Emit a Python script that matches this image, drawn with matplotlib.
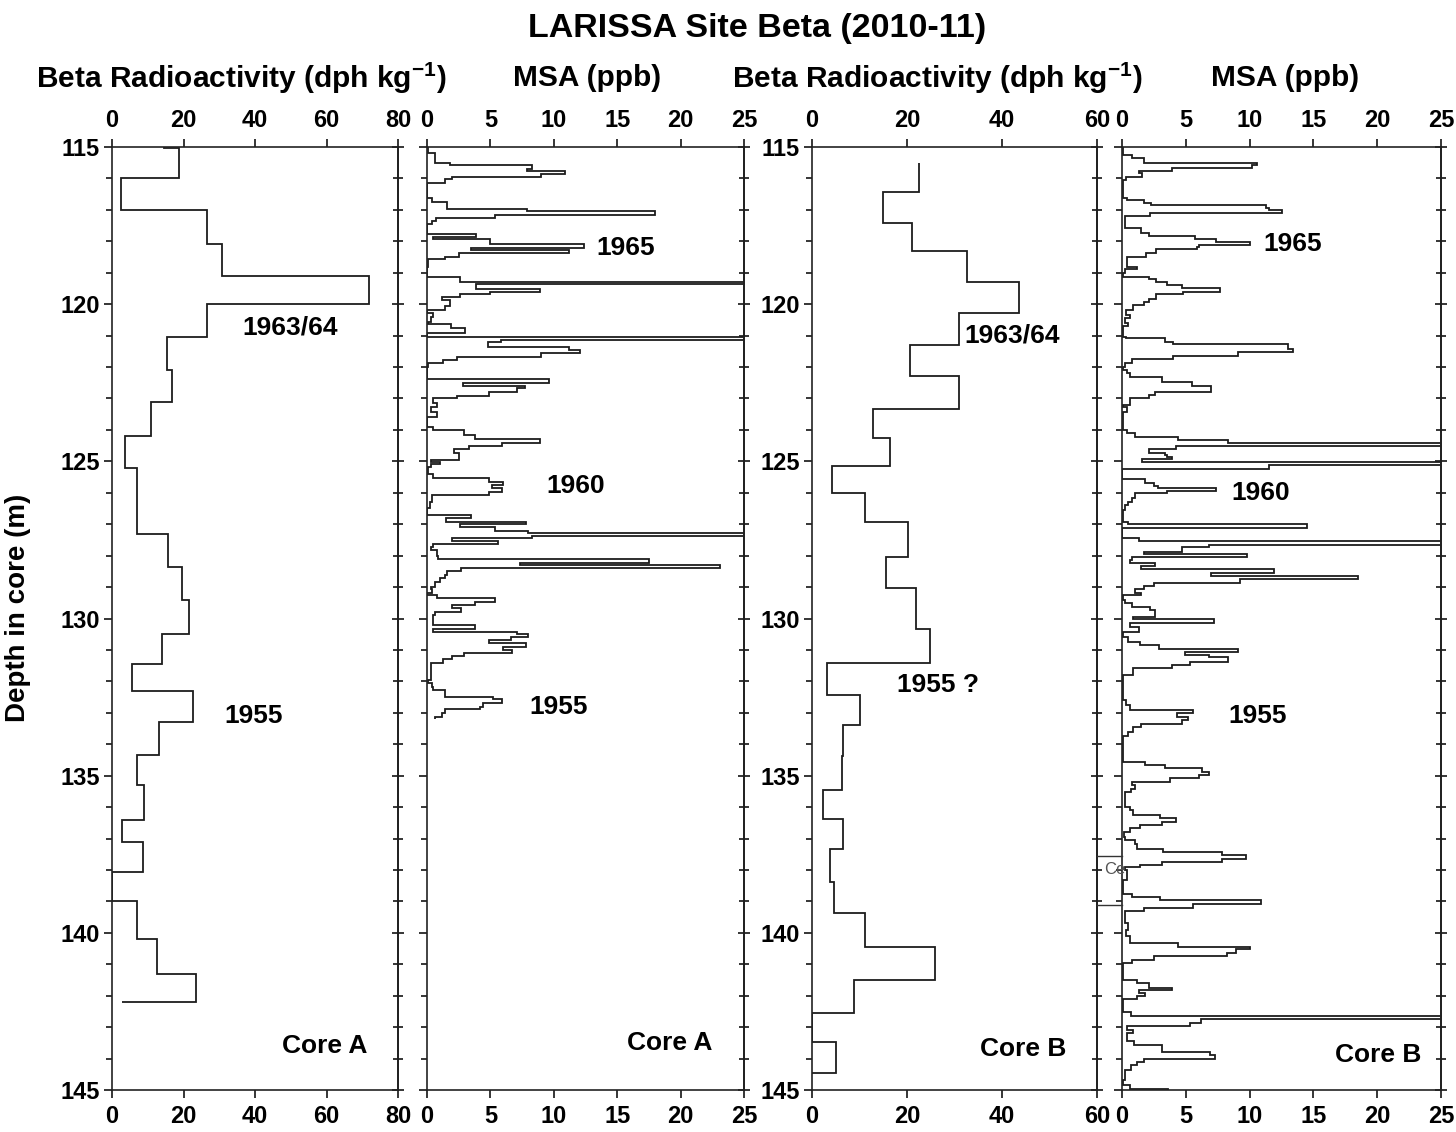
import matplotlib.pyplot as plt
from matplotlib.lines import Line2D
from matplotlib.ticker import MultipleLocator

plt.rcParams['font.family'] = ['Liberation Sans', 'DejaVu Sans']
plt.rcParams['font.weight'] = 'bold'
plt.rcParams['mathtext.fontset'] = 'custom'
plt.rcParams['mathtext.bf'] = 'Liberation Sans:bold'
plt.rcParams['mathtext.rm'] = 'Liberation Sans:bold'
plt.rcParams['mathtext.default'] = 'bf'

# Core A beta radioactivity (dph/kg), sample boundaries in m
beta_a_edges = [115.0, 115.03, 116.0, 117.0, 118.1, 119.1, 120.0, 121.05, 122.1, 123.1,
                124.2, 125.2, 127.3, 128.35, 129.4, 130.5, 131.45, 132.3, 133.3, 134.35,
                135.3, 136.4, 137.1, 138.05, 139.0, 140.2, 141.3, 142.2, 142.21]
beta_a_vals = [14.5, 18.8, 2.4, 26.5, 30.7, 71.8, 26.5, 15.5, 16.7, 10.8,
               3.5, 6.9, 15.7, 19.6, 21.6, 14.0, 5.5, 22.7, 13.1, 6.9,
               9.0, 2.8, 8.6, 0.0, 6.9, 12.5, 23.4, 2.7]

# Core B beta radioactivity
beta_b_edges = [115.52, 116.44, 117.43, 118.31, 119.28, 120.28, 121.30, 122.27, 123.32, 124.25,
                125.14, 126.02, 126.93, 128.03, 129.04, 130.33, 131.40, 132.43, 133.40, 134.38,
                135.46, 136.39, 137.34, 138.37, 139.38, 140.45, 141.50, 142.56, 143.48, 144.47,
                144.48]
beta_b_vals = [22.5, 14.9, 21.05, 32.7, 43.6, 30.9, 20.6, 30.9, 12.8, 16.5,
               4.2, 11.2, 20.3, 15.6, 21.8, 24.8, 3.1, 10.1, 6.5, 6.3,
               2.4, 6.5, 3.8, 4.7, 11.2, 25.8, 8.8, 0.0, 5.0, 0.0]

# Core A MSA (ppb): top depth of each sample, value, and base of the last sample
msa_a_top = [115.00, 115.20, 115.50, 115.58, 115.71, 115.77, 115.87, 115.94, 116.03, 116.13,
             116.63, 116.74, 116.97, 117.04, 117.17, 117.27, 117.35, 117.45, 117.78, 117.85,
             117.93, 118.09, 118.20, 118.28, 118.38, 118.49, 118.56, 118.81, 119.13, 119.28,
             119.37, 119.52, 119.60, 119.68, 119.76, 119.87, 120.05, 120.19, 120.29, 120.40,
             120.56, 120.63, 120.77, 120.91, 121.06, 121.14, 121.19, 121.35, 121.46, 121.56,
             121.67, 121.78, 121.88, 121.99, 122.39, 122.52, 122.60, 122.68, 122.78, 122.92,
             123.00, 123.15, 123.26, 123.42, 123.58, 123.92, 124.00, 124.16, 124.30, 124.43,
             124.51, 124.62, 124.72, 124.95, 125.03, 125.10, 125.18, 125.40, 125.54, 125.65,
             125.75, 125.86, 125.97, 126.07, 126.30, 126.50, 126.71, 126.81, 126.92, 126.99,
             127.10, 127.21, 127.27, 127.38, 127.45, 127.52, 127.63, 127.72, 127.82, 128.01,
             128.12, 128.25, 128.30, 128.40, 128.48, 128.62, 128.72, 128.83, 128.99, 129.07,
             129.18, 129.25, 129.36, 129.46, 129.57, 129.68, 129.78, 129.89, 130.21, 130.33,
             130.42, 130.49, 130.60, 130.68, 130.77, 130.90, 131.00, 131.09, 131.19, 131.30,
             131.43, 131.96, 132.06, 132.17, 132.28, 132.49, 132.57, 132.70, 132.81, 132.89,
             133.02, 133.12]
msa_a_val = [0.05, 0.6, 1.8, 8.3, 7.9, 10.9, 9.0, 2.0, 1.4, 0.0,
             0.4, 1.6, 7.9, 18.0, 5.4, 0.7, 0.4, 0.0, 3.9, 0.5,
             5.0, 12.4, 3.5, 11.2, 2.5, 1.4, 0.1, 0.0, 2.6, 30.0,
             3.9, 8.9, 5.0, 2.6, 1.2, 1.8, 1.4, 0.0, 0.5, 0.3,
             0.1, 1.9, 3.0, 0.0, 30.0, 5.8, 4.8, 11.2, 12.1, 9.0,
             2.4, 1.3, 0.1, 0.0, 9.6, 2.8, 7.7, 7.1, 4.9, 2.4,
             0.5, 0.8, 0.3, 0.8, 0.0, 0.5, 2.9, 3.8, 8.9, 5.9,
             3.3, 2.1, 2.5, 0.3, 1.0, 0.3, 0.1, 0.5, 4.9, 6.0,
             5.1, 5.9, 4.9, 0.4, 0.2, 0.0, 3.5, 1.5, 7.8, 2.6,
             5.4, 8.0, 30.0, 8.3, 2.0, 5.6, 0.5, 0.3, 0.8, 0.9,
             17.5, 7.3, 23.1, 2.7, 1.6, 1.4, 1.0, 0.6, 0.3, 0.4,
             0.0, 0.8, 5.4, 3.8, 2.0, 2.7, 0.6, 0.5, 3.8, 0.5,
             7.1, 8.0, 6.6, 4.9, 7.8, 6.0, 6.7, 2.9, 2.0, 1.3,
             0.3, 0.1, 0.4, 0.5, 1.4, 5.2, 5.9, 4.4, 4.2, 1.4,
             1.2, 0.6]
msa_a_base = 133.21

# Core B MSA (ppb)
msa_b_top = [115.00, 115.25, 115.36, 115.50, 115.57, 115.68, 115.76, 115.84, 115.95, 116.05,
             116.63, 116.69, 116.79, 116.85, 116.95, 117.00, 117.09, 117.20, 117.59, 117.75,
             117.83, 117.94, 118.01, 118.12, 118.19, 118.26, 118.36, 118.49, 118.81, 118.88,
             119.02, 119.13, 119.21, 119.28, 119.39, 119.50, 119.60, 119.68, 119.85, 119.92,
             120.03, 120.19, 120.35, 120.45, 120.60, 120.70, 121.03, 121.09, 121.19, 121.27,
             121.44, 121.53, 121.65, 121.76, 121.88, 121.99, 122.09, 122.20, 122.33, 122.47,
             122.60, 122.78, 122.89, 123.00, 123.21, 123.26, 123.42, 124.00, 124.09, 124.22,
             124.32, 124.43, 124.51, 124.62, 124.72, 124.80, 124.87, 124.94, 125.03, 125.12,
             125.24, 125.57, 125.68, 125.79, 125.86, 125.93, 126.02, 126.18, 126.28, 126.39,
             126.55, 126.92, 126.99, 127.13, 127.45, 127.53, 127.66, 127.74, 127.87, 127.95,
             128.03, 128.14, 128.25, 128.33, 128.44, 128.54, 128.65, 128.75, 128.88, 128.97,
             129.07, 129.18, 129.25, 129.41, 129.52, 129.62, 129.73, 129.94, 130.03, 130.15,
             130.28, 130.42, 130.60, 130.74, 130.84, 130.97, 131.06, 131.16, 131.24, 131.37,
             131.48, 131.59, 131.80, 131.96, 132.59, 132.75, 132.91, 133.02, 133.12, 133.23,
             133.36, 133.46, 133.60, 133.74, 134.56, 134.67, 134.77, 134.88, 134.99, 135.09,
             135.20, 135.30, 135.41, 135.52, 135.99, 136.10, 136.26, 136.36, 136.47, 136.58,
             136.68, 136.79, 136.95, 137.05, 137.16, 137.32, 137.42, 137.53, 137.64, 137.74,
             137.85, 137.92, 138.01, 138.33, 138.75, 138.86, 138.96, 139.09, 139.20, 139.30,
             139.49, 139.70, 139.90, 140.10, 140.31, 140.45, 140.53, 140.64, 140.74, 140.85,
             140.96, 141.49, 141.61, 141.74, 141.83, 141.91, 142.02, 142.12, 142.51, 142.64,
             142.73, 142.86, 142.97, 143.08, 143.18, 143.44, 143.58, 143.79, 143.89, 144.00,
             144.11, 144.21, 144.37, 144.69, 144.85, 144.97]
msa_b_val = [0.1, 0.8, 1.7, 10.6, 10.2, 3.9, 1.3, 1.6, 0.3, 0.1,
             0.4, 1.7, 2.3, 11.3, 11.5, 12.5, 2.2, 0.2, 1.5, 2.1,
             5.7, 7.4, 10.0, 6.0, 5.9, 2.7, 1.9, 0.4, 1.2, 0.2,
             0.1, 2.1, 2.7, 3.5, 4.7, 7.7, 4.8, 2.7, 2.1, 1.7,
             0.9, 0.3, 0.6, 0.2, 0.5, 0.1, 0.3, 3.4, 4.0, 13.0,
             13.4, 9.1, 4.0, 0.8, 0.2, 0.1, 0.4, 0.6, 3.1, 5.5,
             7.0, 2.6, 2.1, 0.6, 0.1, 0.4, 0.05, 0.4, 1.0, 4.4,
             8.3, 30.0, 4.2, 2.1, 3.4, 3.5, 3.9, 1.6, 30.0, 11.5,
             0.0, 1.8, 2.5, 2.85, 7.4, 3.5, 1.0, 0.8, 0.5, 0.2,
             0.1, 0.5, 14.5, 0.0, 1.3, 30.0, 6.8, 4.7, 1.7, 9.8,
             0.8, 0.6, 2.6, 1.5, 11.9, 6.95, 18.5, 9.25, 2.5, 1.7,
             1.0, 1.5, 0.05, 0.25, 0.75, 2.2, 2.6, 0.9, 7.2, 0.6,
             1.3, 0.05, 0.5, 1.4, 2.9, 9.1, 4.9, 6.8, 8.3, 5.3,
             3.9, 0.9, 0.1, 0.05, 0.3, 0.6, 5.6, 4.3, 5.2, 4.7,
             1.5, 0.9, 0.5, 0.1, 1.8, 3.4, 6.3, 6.8, 6.0, 3.8,
             0.8, 1.0, 0.7, 0.2, 0.6, 0.9, 3.0, 4.2, 3.1, 1.4,
             0.6, 0.15, 0.25, 1.0, 1.15, 3.2, 7.8, 9.7, 7.8, 3.1,
             1.4, 0.25, 0.4, 0.05, 0.8, 3.0, 10.9, 5.6, 1.7, 0.25,
             0.2, 0.45, 0.3, 0.6, 4.4, 10.0, 8.9, 8.2, 2.5, 0.8,
             0.05, 1.15, 2.1, 3.9, 1.3, 1.8, 1.15, 0.05, 0.7, 30.0,
             6.2, 5.3, 0.4, 0.9, 0.4, 0.95, 3.1, 6.9, 7.3, 1.7,
             1.15, 0.7, 0.25, 0.1, 0.6, 3.6]
msa_b_base = 145.0

LINE = '#1c1c1c'
fig = plt.figure(figsize=(14.56, 11.32), dpi=100)

W, H = 1456.0, 1132.0
top_px, bot_px = 147, 1090


def make_ax(x0, x1):
    return fig.add_axes([x0 / W, 1 - bot_px / H, (x1 - x0) / W, (bot_px - top_px) / H])


def style(ax, xmax, xstep, ylabels):
    ax.set_xlim(0, xmax)
    ax.set_ylim(145, 115)
    ax.xaxis.set_major_locator(MultipleLocator(xstep))
    ax.yaxis.set_major_locator(MultipleLocator(5))
    ax.yaxis.set_minor_locator(MultipleLocator(1))
    for s in ax.spines.values():
        s.set_linewidth(1.2)
        s.set_color('#222222')
    ax.tick_params(axis='x', which='major', top=True, labeltop=True, bottom=True,
                   labelbottom=True, direction='out', length=6, width=1.1,
                   labelsize=17, pad=5)
    ax.tick_params(axis='y', which='major', left=True, right=False, direction='out',
                   length=6, width=1.1, labelsize=17, pad=3, labelleft=ylabels)
    ax.tick_params(axis='y', which='minor', left=True, right=False, direction='out',
                   length=4, width=1.1)
    # ticks on the right edge cross the frame
    sec = ax.secondary_yaxis('right')
    sec.yaxis.set_major_locator(MultipleLocator(5))
    sec.yaxis.set_minor_locator(MultipleLocator(1))
    sec.tick_params(which='major', direction='inout', length=9, width=1.1, labelright=False)
    sec.tick_params(which='minor', direction='inout', length=7, width=1.1)
    sec.spines['right'].set_linewidth(1.2)


def profile(ax, vals, edges):
    ax.stairs(vals, edges, orientation='horizontal', baseline=None,
              color=LINE, linewidth=1.3)


ax1 = make_ax(112, 398)
ax2 = make_ax(427, 744)
ax3 = make_ax(812, 1097)
ax4 = make_ax(1122, 1441)

profile(ax1, beta_a_vals, beta_a_edges)
profile(ax2, msa_a_val, msa_a_top + [msa_a_base])
profile(ax3, beta_b_vals, beta_b_edges)
profile(ax4, msa_b_val, msa_b_top + [msa_b_base])

style(ax1, 80, 20, True)
style(ax2, 25, 5, False)
style(ax3, 60, 20, True)
style(ax4, 25, 5, False)

lab = dict(fontsize=19, fontweight='bold', ha='center', va='center')
ax1.text(49.8, 120.73, '1963/64', **lab)
ax1.text(39.7, 133.1, '1955', **lab)
ax1.text(59.6, 143.6, 'Core A', **lab)
ax2.text(15.7, 118.2, '1965', **lab)
ax2.text(11.7, 125.8, '1960', **lab)
ax2.text(10.4, 132.8, '1955', **lab)
ax2.text(19.1, 143.5, 'Core A', **lab)
ax3.text(42.1, 121.0, '1963/64', **lab)
ax3.text(26.5, 132.1, '1955 ?', **lab)
ax3.text(44.4, 143.7, 'Core B', **lab)
ax4.text(13.4, 118.1, '1965', **lab)
ax4.text(10.9, 126.0, '1960', **lab)
ax4.text(10.6, 133.1, '1955', **lab)
ax4.text(20.1, 143.9, 'Core B', **lab)

fig.text(757 / W, 1 - 28 / H, 'LARISSA Site Beta (2010-11)', fontsize=24.5,
         fontweight='bold', ha='center', va='center')
head = dict(fontsize=21.5, fontweight='bold', ha='center', va='center')
fig.text(241 / W, 1 - 78 / H, r'Beta Radioactivity (dph kg$^{-1}$)', **head)
fig.text(587 / W, 1 - 78 / H, 'MSA (ppb)', **head)
fig.text(937 / W, 1 - 78 / H, r'Beta Radioactivity (dph kg$^{-1}$)', **head)
fig.text(1285 / W, 1 - 78 / H, 'MSA (ppb)', **head)
fig.text(18 / W, 1 - 608 / H, 'Depth in core (m)', fontsize=20, fontweight='bold',
         rotation=90, ha='center', va='center')

# leftover label box between the Core B panels
for yy in (856, 905):
    fig.add_artist(Line2D([1097 / W, 1122 / W], [1 - yy / H, 1 - yy / H],
                          transform=fig.transFigure, color='#333333', linewidth=1.0))
fig.text(1104 / W, 1 - 869 / H, 'Ce', fontsize=12, fontweight='normal',
         color='#555555', ha='left', va='center')

fig.savefig('out.png', dpi=100)
